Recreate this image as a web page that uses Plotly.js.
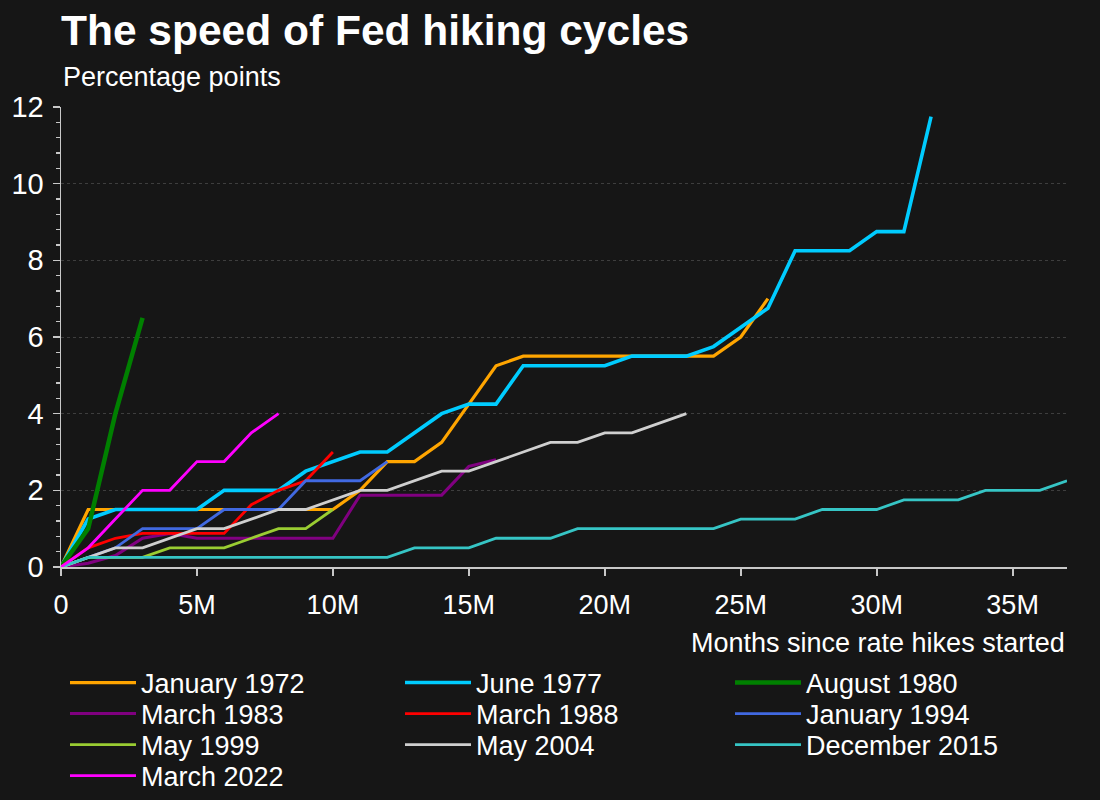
<!DOCTYPE html>
<html>
<head>
<meta charset="utf-8">
<script src="https://cdn.plot.ly/plotly-3.0.1.min.js"></script>
<style>
  html, body { margin: 0; padding: 0; background: #161616; }
  #chart { width: 1100px; height: 800px; }
</style>
</head>
<body>
<div id="chart"></div>
<script>
// ---- Data (percentage points above starting rate, by month since first hike) ----
const seriesNames = ["January 1972", "June 1977", "August 1980", "March 1983", "March 1988",
                     "January 1994", "May 1999", "May 2004", "December 2015", "March 2022"];

const jan1972 = [0, 1.5, 1.5, 1.5, 1.5, 1.5, 1.5, 1.5, 1.5, 1.5, 1.5, 2.0, 2.75, 2.75, 3.25, 4.25,
                 5.25, 5.5, 5.5, 5.5, 5.5, 5.5, 5.5, 5.5, 5.5, 6.0, 7.0];
const jun1977 = [0, 1.25, 1.5, 1.5, 1.5, 1.5, 2.0, 2.0, 2.0, 2.5, 2.75, 3.0, 3.0, 3.5, 4.0, 4.25,
                 4.25, 5.25, 5.25, 5.25, 5.25, 5.5, 5.5, 5.5, 5.75, 6.25, 6.75, 8.25, 8.25, 8.25,
                 8.75, 8.75, 11.75];
const aug1980 = [0, 1.0, 4.0, 6.5];
const mar1983 = [0, 0.1, 0.3, 0.75, 0.875, 0.75, 0.75, 0.75, 0.75, 0.75, 0.75, 1.875, 1.875,
                 1.875, 1.875, 2.625, 2.8];
const mar1988 = [0, 0.5, 0.75, 0.875, 0.875, 0.875, 0.875, 1.625, 2.0, 2.25, 3.0];
const jan1994 = [0, 0.25, 0.5, 1.0, 1.0, 1.0, 1.5, 1.5, 1.5, 2.25, 2.25, 2.25, 2.75];
const may1999 = [0, 0.25, 0.25, 0.25, 0.5, 0.5, 0.5, 0.75, 1.0, 1.0, 1.5];
const may2004 = [0, 0.25, 0.5, 0.5, 0.75, 1.0, 1.0, 1.25, 1.5, 1.5, 1.75, 2.0, 2.0, 2.25, 2.5,
                 2.5, 2.75, 3.0, 3.25, 3.25, 3.5, 3.5, 3.75, 4.0];
const dec2015 = [0, 0.25, 0.25, 0.25, 0.25, 0.25, 0.25, 0.25, 0.25, 0.25, 0.25, 0.25, 0.25,
                 0.5, 0.5, 0.5, 0.75, 0.75, 0.75, 1.0, 1.0, 1.0, 1.0, 1.0, 1.0,
                 1.25, 1.25, 1.25, 1.5, 1.5, 1.5, 1.75, 1.75, 1.75, 2.0, 2.0, 2.0, 2.25];
const mar2022 = [0, 0.5, 1.25, 2.0, 2.0, 2.75, 2.75, 3.5, 4.0];

const xTickVals = [0, 5, 10, 15, 20, 25, 30, 35];
const xTickText = ["0", "5M", "10M", "15M", "20M", "25M", "30M", "35M"];

// ---- Styling ----
const seriesValues = [jan1972, jun1977, aug1980, mar1983, mar1988, jan1994, may1999, may2004, dec2015, mar2022];
const colors = ["#FFA500", "#00CCFF", "#008000", "#800080", "#FF0000",
                "#4169E1", "#9ACD32", "#CFCFCF", "#36C5C5", "#FF00FF"];
const widths = [3.2, 3.6, 4.5, 3, 2.8, 2.8, 2.8, 2.8, 2.8, 2.8];

const FONT = "Liberation Sans, Arial, Helvetica, sans-serif";
const TXT = "#FFFFFF";
const AX = "#C8C8C8";
const BG = "#161616";

// legend grid: 3 columns, rows filled left to right
const colPx = [65, 400, 730];
const rowPx = [683, 714, 745, 776];
function legendKey(i) { return i === 0 ? "legend" : "legend" + (i + 1); }

const traces = seriesValues.map((vals, i) => ({
  type: "scatter",
  mode: "lines",
  name: seriesNames[i],
  x: vals.map((_, m) => m),
  y: vals,
  line: { color: colors[i], width: widths[i] },
  legend: legendKey(i),
  hoverinfo: "skip"
}));

const layout = {
  width: 1100, height: 800,
  paper_bgcolor: BG,
  plot_bgcolor: BG,
  margin: { l: 61, r: 33, t: 107, b: 233, autoexpand: false },
  font: { family: FONT, color: TXT },
  title: {
    text: "<b>The speed of Fed hiking cycles</b>",
    font: { family: FONT, size: 42.5, color: TXT },
    xref: "paper", x: 0, xanchor: "left",
    yref: "container", y: 1 - 30 / 800, yanchor: "middle"
  },
  xaxis: {
    range: [0, 37],
    tickvals: xTickVals, ticktext: xTickText,
    ticks: "outside", ticklen: 7, tickwidth: 2, tickcolor: AX,
    ticklabelstandoff: 6,
    showline: true, linecolor: AX, linewidth: 2,
    showgrid: false, zeroline: false,
    tickfont: { family: FONT, size: 27, color: TXT },
    fixedrange: true
  },
  yaxis: {
    range: [0, 12], dtick: 2, tick0: 0,
    ticks: "outside", ticklen: 7, tickwidth: 1.5, tickcolor: AX,
    ticklabelstandoff: 3,
    showline: true, linecolor: AX, linewidth: 1.5,
    showgrid: true, gridcolor: "#3E3E3E", gridwidth: 1, griddash: "dot",
    zeroline: false,
    tickfont: { family: FONT, size: 29, color: TXT },
    minor: { dtick: 0.4, tick0: 0, ticks: "outside", ticklen: 4, tickwidth: 1.5, tickcolor: AX, showgrid: false },
    fixedrange: true
  },
  showlegend: true,
  annotations: [
    {
      text: "Percentage points",
      xref: "paper", x: 0, xanchor: "left",
      yref: "paper", y: 1 + 30 / 460, yanchor: "middle",
      showarrow: false,
      font: { family: FONT, size: 27, color: TXT }
    },
    {
      text: "Months since rate hikes started",
      xref: "paper", x: 1, xanchor: "right",
      yref: "paper", y: -(643 - 567) / 460, yanchor: "middle",
      showarrow: false,
      font: { family: FONT, size: 27, color: TXT }
    }
  ]
};

seriesNames.forEach((_, i) => {
  const col = i % 3, row = Math.floor(i / 3);
  layout[legendKey(i)] = {
    orientation: "v",
    xref: "paper", x: (colPx[col] - 61) / 1006, xanchor: "left",
    yref: "paper", y: (567 - rowPx[row]) / 460, yanchor: "middle",
    itemwidth: 66,
    font: { family: FONT, size: 27, color: TXT },
    bgcolor: "rgba(0,0,0,0)",
    borderwidth: 0
  };
});

Plotly.newPlot("chart", traces, layout, { displayModeBar: false, staticPlot: true });
</script>
</body>
</html>
